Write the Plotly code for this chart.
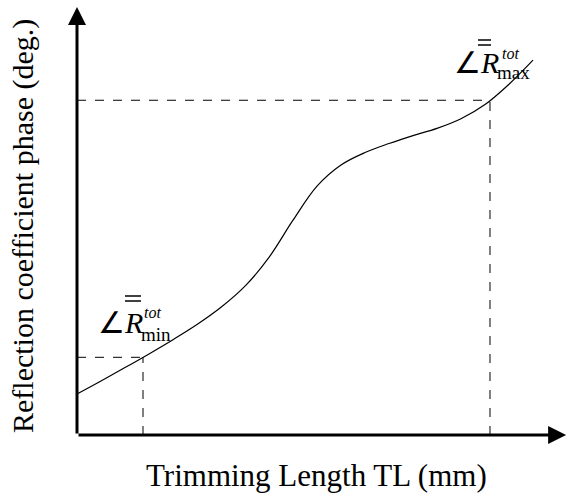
import plotly.graph_objects as go

# ---- data (arbitrary schematic units) ----
tl = [0.0, 0.5, 1.0, 1.5, 2.0, 2.5, 3.0, 3.5, 4.0, 4.5, 5.0, 5.5, 6.0, 6.5, 7.0, 7.5, 8.0, 8.5, 9.0, 9.5]
phase = [0.976, 1.286, 1.605, 1.931, 2.269, 2.629, 3.040, 3.543, 4.229, 5.114, 5.926, 6.429,
         6.726, 6.940, 7.129, 7.300, 7.529, 7.867, 8.352, 8.924]
tl_min, phase_min = 1.375, 1.85
tl_max, phase_max = 8.604, 7.97
x_axis_end = 10.19
y_axis_end = 10.19

# pixel -> data helpers for layout placement (figure is 568x497 with zero margins)
X0 = -77 / 48
Y0 = (435 - 497) / 42
def px(x):
    return (x - 77) / 48
def py(y):
    return (435 - y) / 42

SERIF = "Liberation Serif"

fig = go.Figure()
fig.add_trace(go.Scatter(x=tl, y=phase, mode="lines",
                         line=dict(color="black", width=1.2, shape="spline", smoothing=1.0),
                         hoverinfo="skip", showlegend=False))

dash = dict(color="black", width=1, dash="dash")
shapes = [
    dict(type="line", x0=0, x1=tl_max, y0=phase_max, y1=phase_max, line=dash),
    dict(type="line", x0=tl_max, x1=tl_max, y0=0, y1=phase_max, line=dash),
    dict(type="line", x0=0, x1=tl_min, y0=phase_min, y1=phase_min, line=dash),
    dict(type="line", x0=tl_min, x1=tl_min, y0=0, y1=phase_min, line=dash),
]
# double overbars above R
for (xa, xb, ya, yb) in [(478, 491, 40, 45), (125, 141, 296, 301)]:
    for yy in (ya, yb):
        shapes.append(dict(type="line", x0=px(xa), x1=px(xb), y0=py(yy), y1=py(yy),
                           line=dict(color="black", width=1.5)))

ann = []
# axes with arrows
ann.append(dict(x=0, y=y_axis_end, ax=0, ay=0, xref="x", yref="y", axref="x", ayref="y",
                text="", showarrow=True, arrowhead=2, arrowsize=1.2, arrowwidth=3, arrowcolor="black"))
ann.append(dict(x=x_axis_end, y=0, ax=0, ay=0, xref="x", yref="y", axref="x", ayref="y",
                text="", showarrow=True, arrowhead=2, arrowsize=1.2, arrowwidth=3, arrowcolor="black"))

def label(xc, yc, text, size):
    ann.append(dict(x=px(xc), y=py(yc), xref="x", yref="y", text=text, showarrow=False,
                    xanchor="center", yanchor="middle", font=dict(family=SERIF, size=size, color="black")))

# max label
label(476, 62, "∠<i>R</i>", 30)
label(510, 53, "<i>tot</i>", 16)
label(513, 72, "max", 19)
# min label
label(120, 322, "∠<i>R</i>", 30)
label(152, 312, "<i>tot</i>", 16)
label(156, 334, "min", 19)

# axis titles
ann.append(dict(x=px(316), y=py(475), xref="x", yref="y", text="Trimming Length TL (mm)", showarrow=False,
                xanchor="center", yanchor="middle", font=dict(family=SERIF, size=31, color="black")))
ann.append(dict(x=px(23), y=py(226), xref="x", yref="y", text="Reflection coefficient phase (deg.)",
                showarrow=False, textangle=-90, xanchor="center", yanchor="middle",
                font=dict(family=SERIF, size=30, color="black")))

fig.update_layout(
    width=568, height=497, margin=dict(l=0, r=0, t=0, b=0),
    paper_bgcolor="white", plot_bgcolor="white",
    xaxis=dict(range=[X0, px(568)], visible=False, fixedrange=True),
    yaxis=dict(range=[Y0, py(0)], visible=False, fixedrange=True),
    shapes=shapes, annotations=ann, showlegend=False,
)
fig.write_html("out.html")
